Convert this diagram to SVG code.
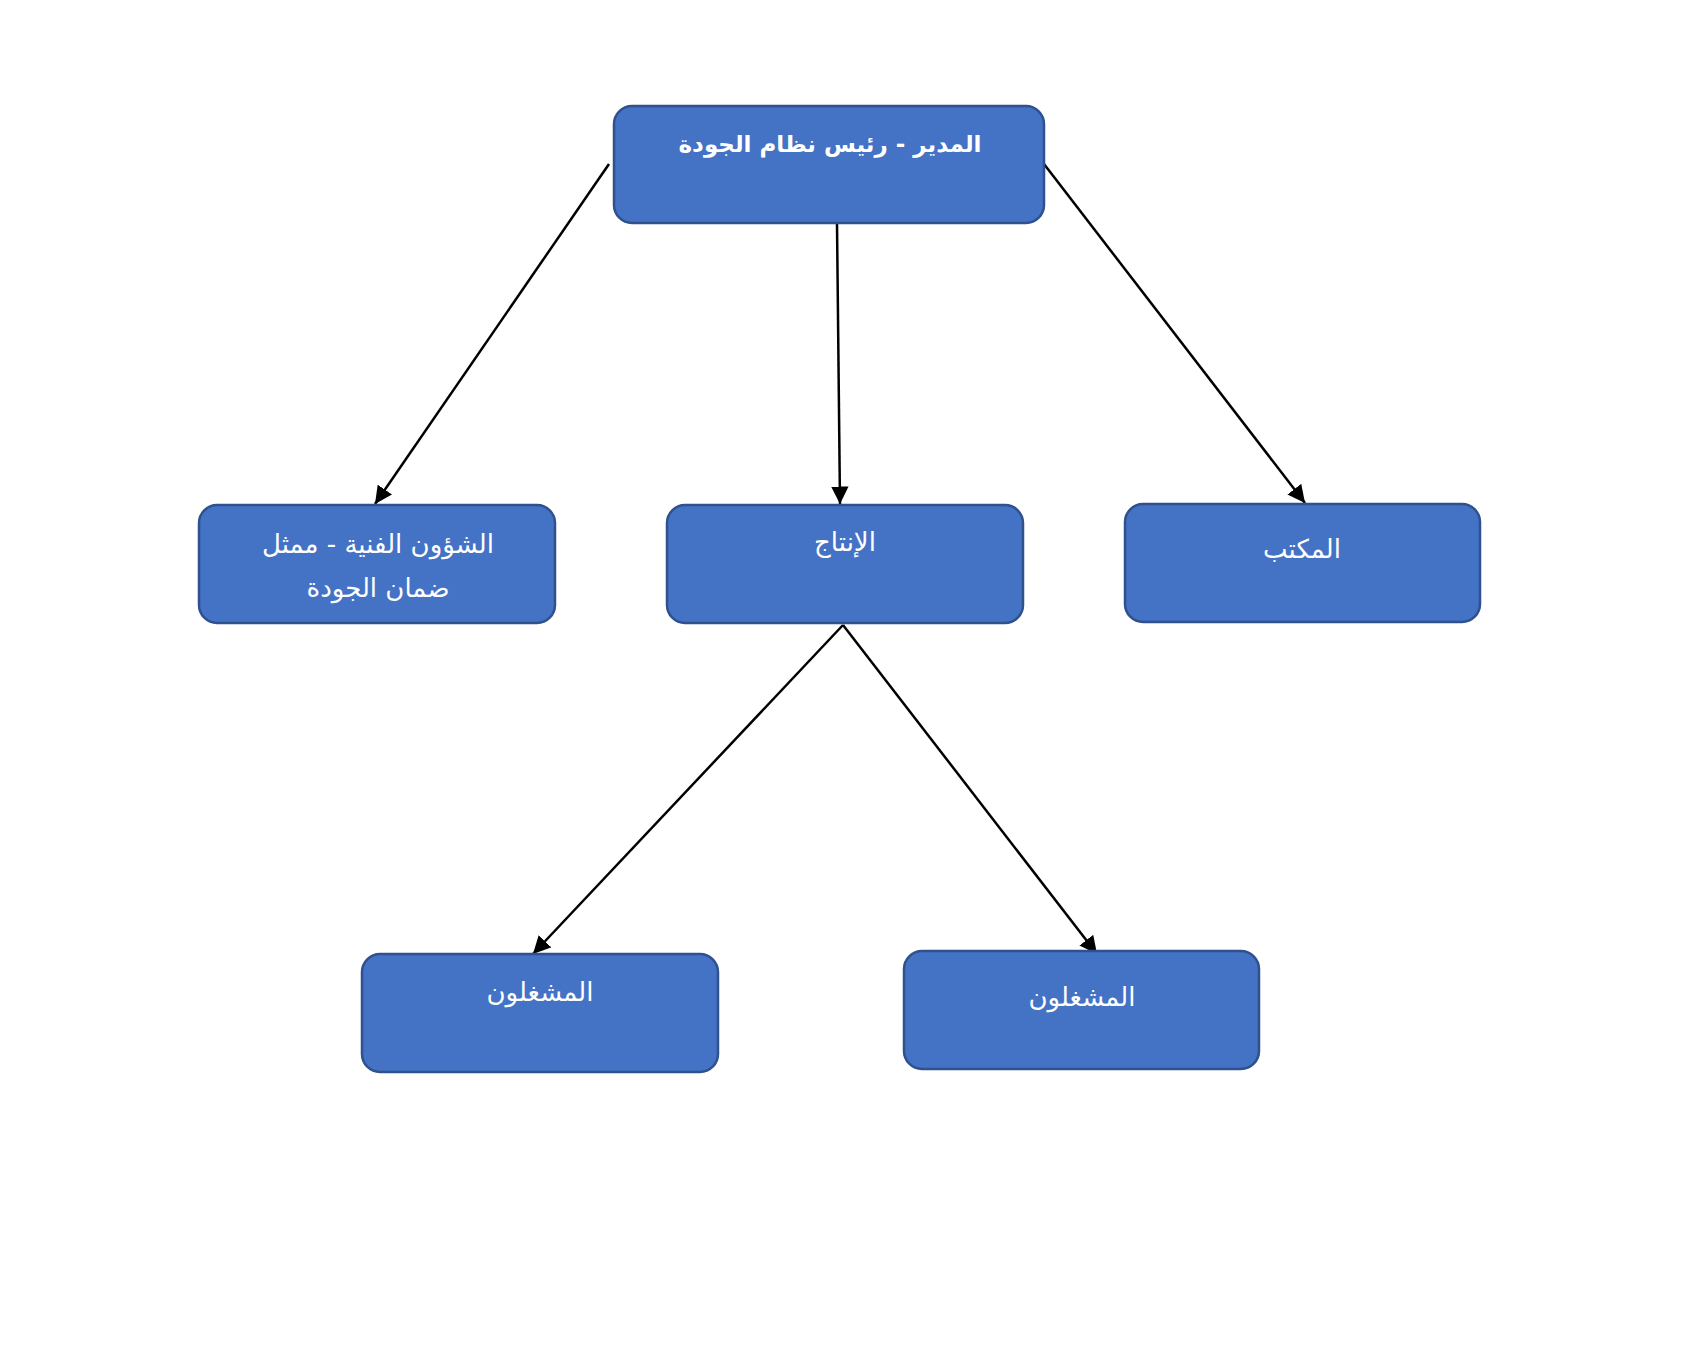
<svg xmlns="http://www.w3.org/2000/svg" width="1700" height="1351" viewBox="0 0 1700 1351">
<defs>
<style>
.box{fill:#4472C4;stroke:#2F528F;stroke-width:2.5}
.lbl{fill:#FFFFFF;font-family:"DejaVu Sans",sans-serif;font-size:26px;text-anchor:middle}
.bold{font-weight:bold;font-size:23px}
.edge{stroke:#000000;stroke-width:2.5;fill:none;marker-end:url(#arr)}
</style>
<marker id="arr" viewBox="0 0 10 10" refX="10" refY="5" markerWidth="7" markerHeight="7" markerUnits="strokeWidth" orient="auto">
<path d="M0,0 L10,5 L0,10 Z" fill="#000000"/>
</marker>
</defs>
<rect width="1700" height="1351" fill="#FFFFFF"/>
<g id="connectors">
<line class="edge" x1="609" y1="164" x2="375" y2="504"/>
<line class="edge" x1="837" y1="223" x2="840" y2="504"/>
<line class="edge" x1="1044" y1="164" x2="1305" y2="503"/>
<line class="edge" x1="843" y1="625" x2="533" y2="954"/>
<line class="edge" x1="843" y1="625" x2="1097" y2="954"/>
</g>
<g id="node-manager">
<rect class="box" x="614" y="106" width="430" height="117" rx="18"/>
<text class="lbl bold" x="830" y="152" direction="rtl">المدير - رئيس نظام الجودة</text>
</g>
<g id="node-technical">
<rect class="box" x="199" y="505" width="356" height="118" rx="18"/>
<text class="lbl" x="378" y="553" direction="rtl">الشؤون الفنية - ممثل</text>
<text class="lbl" x="378" y="597" direction="rtl">ضمان الجودة</text>
</g>
<g id="node-production">
<rect class="box" x="667" y="505" width="356" height="118" rx="18"/>
<text class="lbl" x="845" y="551" direction="rtl">الإنتاج</text>
</g>
<g id="node-office">
<rect class="box" x="1125" y="504" width="355" height="118" rx="18"/>
<text class="lbl" x="1302" y="558" direction="rtl">المكتب</text>
</g>
<g id="node-operators-left">
<rect class="box" x="362" y="954" width="356" height="118" rx="18"/>
<text class="lbl" x="540" y="1001" direction="rtl">المشغلون</text>
</g>
<g id="node-operators-right">
<rect class="box" x="904" y="951" width="355" height="118" rx="18"/>
<text class="lbl" x="1082" y="1006" direction="rtl">المشغلون</text>
</g>
</svg>
